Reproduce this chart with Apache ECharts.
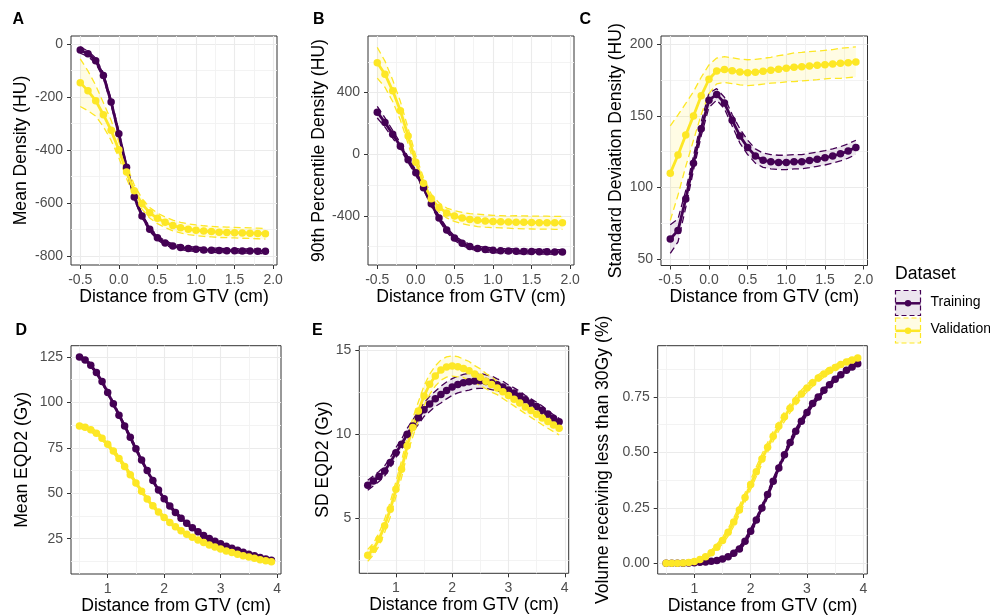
<!DOCTYPE html>
<html>
<head>
<meta charset="utf-8">
<script src="https://cdn.jsdelivr.net/npm/echarts@6/dist/echarts.min.js"></script>
<style>
  html, body { margin: 0; padding: 0; background: #fff; }
  #chart { width: 990px; height: 616px; }
</style>
</head>
<body>
<div id="chart"></div>
<script>
// distances (cm)
const distanceTop = [-0.5, -0.4, -0.3, -0.2, -0.1, 0.0, 0.1, 0.2, 0.3, 0.4, 0.5, 0.6, 0.7, 0.8, 0.9, 1.0, 1.1, 1.2, 1.3, 1.4, 1.5, 1.6, 1.7, 1.8, 1.9];
const distanceBottom = [0.5, 0.6, 0.7, 0.8, 0.9, 1.0, 1.1, 1.2, 1.3, 1.4, 1.5, 1.6, 1.7, 1.8, 1.9, 2.0, 2.1, 2.2, 2.3, 2.4, 2.5, 2.6, 2.7, 2.8, 2.9, 3.0, 3.1, 3.2, 3.3, 3.4, 3.5, 3.6, 3.7, 3.8, 3.9];

// A - mean density (HU)
const meanDensityTrain = [-22, -36, -62, -118, -218, -338, -464, -576, -648, -698, -730, -750, -761, -767, -771, -774, -776, -777, -778, -779, -779, -780, -780, -781, -781];
const meanDensityTrainCI = [12, 10, 10, 10, 10, 10, 9, 9, 8, 8, 8, 8, 8, 8, 8, 8, 8, 8, 8, 8, 8, 8, 8, 8, 9];
const meanDensityValid = [-145, -176, -213, -266, -325, -398, -482, -553, -602, -636, -657, -672, -684, -692, -698, -702, -705, -707, -709, -710, -711, -712, -713, -714, -715];
const meanDensityValidCI = [90, 75, 58, 45, 38, 30, 25, 22, 20, 20, 20, 20, 20, 20, 20, 20, 20, 20, 20, 20, 20, 20, 20, 20, 20];

// B - 90th percentile density (HU)
const p90Train = [273, 206, 130, 52, -36, -120, -218, -322, -415, -492, -545, -578, -600, -613, -620, -624, -627, -629, -631, -632, -633, -634, -634, -635, -635];
const p90TrainCI = [38, 30, 25, 20, 18, 16, 15, 15, 15, 15, 15, 15, 15, 15, 15, 15, 15, 15, 15, 15, 15, 15, 15, 15, 15];
const p90Valid = [594, 520, 412, 282, 118, -52, -188, -290, -346, -382, -402, -415, -424, -430, -434, -437, -439, -441, -442, -443, -444, -445, -445, -446, -446];
const p90ValidCI = [100, 85, 70, 60, 50, 42, 35, 30, 30, 32, 35, 37, 38, 40, 40, 40, 40, 40, 42, 42, 42, 42, 42, 42, 42];

// C - standard deviation density (HU)
const sdDensityTrain = [64, 70, 92, 117, 141, 161, 165, 159, 147, 136, 128, 122, 119, 118, 117.5, 117.5, 118, 118, 118.8, 119.8, 120.7, 122, 123.5, 125.5, 128];
const sdDensityTrainCI = [10, 8, 6, 5, 5, 5, 4, 4, 4, 5, 5, 5, 5, 5, 5, 5, 5, 5, 5, 5, 5, 5, 5, 5, 5];
const sdDensityValid = [110, 122.7, 136.7, 150, 164, 175.6, 181.4, 182.4, 181.6, 180.7, 180.2, 180.5, 181.2, 181.9, 182.6, 183.3, 184, 184.4, 184.9, 185.3, 185.8, 186.3, 186.7, 187.2, 187.7];
const sdDensityValidCI = [33, 28, 22, 17, 13, 10, 9, 9, 9, 9, 9, 9, 9, 9, 9.5, 9.5, 10, 10, 10, 10, 10, 10, 10.5, 10.5, 10.5];

// D - mean EQD2 (Gy)
const meanEqd2Train = [125, 123.3, 120.5, 116.5, 111.5, 105.5, 99.2, 93, 87, 80.8, 74.5, 68.3, 62.5, 57, 51.8, 47, 43, 39.5, 36.3, 33.5, 31, 28.8, 26.8, 25.1, 23.6, 22.2, 20.9, 19.7, 18.6, 17.5, 16.5, 15.6, 14.7, 13.9, 13.2];
const meanEqd2TrainCI = [1, 1, 1, 1, 1, 1, 1, 1, 1, 1, 0.9, 0.9, 0.9, 0.9, 0.9, 0.8, 0.8, 0.8, 0.8, 0.8, 0.7, 0.7, 0.7, 0.7, 0.7, 0.6, 0.6, 0.6, 0.6, 0.6, 0.5, 0.5, 0.5, 0.5, 0.5];
const meanEqd2Valid = [87, 86.4, 85, 83, 80.3, 77, 73.3, 69.2, 64.8, 60.2, 55.6, 51.1, 46.9, 43.1, 39.7, 36.7, 34, 31.6, 29.4, 27.5, 25.8, 24.3, 22.9, 21.6, 20.4, 19.3, 18.3, 17.4, 16.5, 15.7, 14.9, 14.2, 13.5, 12.9, 12.4];
const meanEqd2ValidCI = [1.2, 1.2, 1.2, 1.2, 1.2, 1.2, 1.2, 1.2, 1.2, 1.2, 1, 1, 1, 1, 1, 0.9, 0.9, 0.9, 0.9, 0.9, 0.8, 0.8, 0.8, 0.8, 0.8, 0.7, 0.7, 0.7, 0.7, 0.7, 0.6, 0.6, 0.6, 0.6, 0.6];

// E - SD EQD2 (Gy)
const sdEqd2Train = [6.96, 7.22, 7.48, 7.81, 8.31, 8.9, 9.4, 9.99, 10.49, 10.98, 11.45, 11.8, 12.1, 12.35, 12.6, 12.8, 12.95, 13.05, 13.12, 13.16, 13.17, 13.13, 13.05, 12.94, 12.8, 12.62, 12.45, 12.25, 12.05, 11.85, 11.65, 11.42, 11.2, 10.95, 10.74];
const sdEqd2TrainCI = [0.3, 0.3, 0.3, 0.3, 0.3, 0.3, 0.3, 0.35, 0.35, 0.4, 0.4, 0.45, 0.45, 0.5, 0.5, 0.5, 0.5, 0.5, 0.5, 0.45, 0.45, 0.4, 0.4, 0.35, 0.35, 0.3, 0.3, 0.3, 0.25, 0.25, 0.25, 0.25, 0.2, 0.2, 0.2];
const sdEqd2Valid = [2.8, 3.16, 3.75, 4.55, 5.53, 6.72, 7.91, 9.3, 10.39, 11.38, 12.27, 12.96, 13.46, 13.81, 13.99, 14.05, 14.01, 13.91, 13.77, 13.57, 13.38, 13.15, 12.95, 12.75, 12.52, 12.3, 12.08, 11.85, 11.62, 11.4, 11.18, 10.96, 10.75, 10.55, 10.35];
const sdEqd2ValidCI = [0.35, 0.35, 0.4, 0.4, 0.45, 0.45, 0.5, 0.5, 0.55, 0.55, 0.6, 0.6, 0.6, 0.6, 0.6, 0.6, 0.6, 0.55, 0.55, 0.5, 0.5, 0.45, 0.45, 0.4, 0.4, 0.4, 0.4, 0.4, 0.4, 0.4, 0.4, 0.4, 0.4, 0.4, 0.4];

// F - volume receiving less than 30Gy
const v30Train = [0, 0, 0, 0.001, 0.002, 0.003, 0.005, 0.006, 0.009, 0.013, 0.02, 0.03, 0.045, 0.065, 0.1, 0.145, 0.195, 0.25, 0.31, 0.37, 0.43, 0.49, 0.545, 0.595, 0.64, 0.68, 0.72, 0.75, 0.78, 0.805, 0.83, 0.85, 0.87, 0.885, 0.9];
const v30TrainCI = [0, 0, 0, 0, 0.001, 0.002, 0.003, 0.004, 0.005, 0.006, 0.007, 0.008, 0.009, 0.01, 0.011, 0.012, 0.012, 0.013, 0.013, 0.013, 0.013, 0.013, 0.013, 0.012, 0.012, 0.011, 0.011, 0.01, 0.01, 0.009, 0.009, 0.008, 0.008, 0.008, 0.008];
const v30Valid = [0, 0, 0.001, 0.002, 0.004, 0.008, 0.017, 0.03, 0.048, 0.073, 0.103, 0.14, 0.186, 0.24, 0.297, 0.355, 0.413, 0.47, 0.523, 0.573, 0.619, 0.661, 0.699, 0.733, 0.763, 0.79, 0.814, 0.835, 0.853, 0.869, 0.883, 0.896, 0.907, 0.917, 0.926];
const v30ValidCI = [0, 0, 0.001, 0.002, 0.003, 0.005, 0.007, 0.009, 0.011, 0.013, 0.015, 0.017, 0.019, 0.02, 0.021, 0.022, 0.022, 0.022, 0.022, 0.022, 0.021, 0.021, 0.02, 0.019, 0.018, 0.017, 0.016, 0.015, 0.014, 0.013, 0.012, 0.012, 0.011, 0.011, 0.01];

// tick labels
const xTicksTop = [-0.5, 0, 0.5, 1, 1.5, 2];
const xTicksBottom = [1, 2, 3, 4];
const yTicksA = [-800, -600, -400, -200, 0];
const yTicksB = [-400, 0, 400];
const yTicksC = [50, 100, 150, 200];
const yTicksD = [25, 50, 75, 100, 125];
const yTicksE = [5, 10, 15];
const yTicksF = [0, 0.25, 0.5, 0.75];

const PURPLE = '#440154';
const YELLOW = '#FDE725';
const PURPLE_FILL = 'rgba(68,1,84,0.1)';
const YELLOW_FILL = 'rgba(253,231,37,0.12)';
const FONT = '"Liberation Sans", Arial, sans-serif';

const panels = [
  { letter: 'A', lx: 12.5, ly: 20.5, grid: [71, 36, 206, 229], x: [-0.62, 2.05, 0.5, xTicksTop, 1], y: [-833, 31, 200, yTicksA, 0],
    yName: 'Mean Density (HU)', yGap: 41, xGap: 21, xs: distanceTop,
    tr: meanDensityTrain, trCI: meanDensityTrainCI, va: meanDensityValid, vaCI: meanDensityValidCI },
  { letter: 'B', lx: 313, ly: 20.5, grid: [368, 36, 206, 229], x: [-0.62, 2.05, 0.5, xTicksTop, 1], y: [-720, 768, 400, yTicksB, 0],
    yName: '90th Percentile Density (HU)', yGap: 39.5, xGap: 21, xs: distanceTop,
    tr: p90Train, trCI: p90TrainCI, va: p90Valid, vaCI: p90ValidCI },
  { letter: 'C', lx: 579.5, ly: 20.5, grid: [661, 36, 206.5, 229.5], x: [-0.62, 2.05, 0.5, xTicksTop, 1], y: [45.5, 205.8, 50, yTicksC, 0],
    yName: 'Standard Deviation Density (HU)', yGap: 36, xGap: 21, xs: distanceTop,
    tr: sdDensityTrain, trCI: sdDensityTrainCI, va: sdDensityValid, vaCI: sdDensityValidCI },
  { letter: 'D', lx: 15.5, ly: 331.5, grid: [71, 345.7, 210, 228.3], x: [0.35, 4.07, 1, xTicksBottom, 0], y: [5.6, 131.2, 25, yTicksD, 0],
    yName: 'Mean EQD2 (Gy)', yGap: 39.5, xGap: 20, xs: distanceBottom,
    tr: meanEqd2Train, trCI: meanEqd2TrainCI, va: meanEqd2Valid, vaCI: meanEqd2ValidCI },
  { letter: 'E', lx: 312, ly: 331.5, grid: [359.3, 346, 209.4, 227.3], x: [0.35, 4.07, 1, xTicksBottom, 0], y: [1.73, 15.24, 5, yTicksE, 0],
    yName: 'SD EQD2 (Gy)', yGap: 26, xGap: 20, xs: distanceBottom,
    tr: sdEqd2Train, trCI: sdEqd2TrainCI, va: sdEqd2Valid, vaCI: sdEqd2ValidCI },
  { letter: 'F', lx: 580.5, ly: 331.5, grid: [657.7, 345.7, 209.6, 228.3], x: [0.35, 4.07, 1, xTicksBottom, 0], y: [-0.048, 0.981, 0.25, yTicksF, 2],
    yName: 'Volume receiving less than 30Gy (%)', yGap: 45.5, xGap: 20, xs: distanceBottom,
    tr: v30Train, trCI: v30TrainCI, va: v30Valid, vaCI: v30ValidCI }
];

function axisCommon(range, name, gap) {
  const [min, max, step, ticks, digits] = range;
  return {
    type: 'value', min: min, max: max, minInterval: step, maxInterval: step,
    name: name, nameLocation: 'middle', nameGap: gap,
    nameTextStyle: { color: '#000', fontSize: 17.6, fontFamily: FONT },
    axisLine: { show: false, onZero: false },
    axisTick: { show: true, length: 4, customValues: ticks, lineStyle: { color: '#333333', width: 1 } },
    axisLabel: {
      color: '#4D4D4D', fontSize: 14, fontFamily: FONT, customValues: ticks,
      formatter: v => ticks.some(t => Math.abs(t - v) < 1e-9) ? v.toFixed(digits) : ''
    },
    splitLine: { show: true, lineStyle: { color: '#EBEBEB', width: 1.1 } },
    minorTick: { show: false, splitNumber: 2 },
    minorSplitLine: { show: true, lineStyle: { color: '#F2F2F2', width: 0.9 } }
  };
}

function ribbon(k, xs, mean, ci, fill) {
  const lo = mean.map((m, i) => m - ci[i]);
  const hi = mean.map((m, i) => m + ci[i]);
  return {
    type: 'custom', xAxisIndex: k, yAxisIndex: k, z: 1, silent: true,
    data: xs.map((x, i) => [x, lo[i], hi[i]]),
    encode: { x: 0, y: [1, 2] },
    renderItem: (params, api) => {
      if (params.dataIndex !== 0) return null;
      const upper = xs.map((x, i) => api.coord([x, hi[i]]));
      const lower = xs.map((x, i) => api.coord([x, lo[i]])).reverse();
      return { type: 'polygon', shape: { points: upper.concat(lower) }, style: { fill: fill } };
    }
  };
}

function bound(k, xs, mean, ci, sign, color) {
  return {
    type: 'line', xAxisIndex: k, yAxisIndex: k, z: 2, silent: true, symbol: 'none',
    data: xs.map((x, i) => [x, mean[i] + sign * ci[i]]),
    lineStyle: { color: color, width: 1.3, type: [7, 4] }
  };
}

function meanLine(k, xs, mean, color, name) {
  return {
    type: 'line', name: name, xAxisIndex: k, yAxisIndex: k, z: 3, silent: true,
    symbol: 'circle', symbolSize: 7.5, showSymbol: true,
    data: xs.map((x, i) => [x, mean[i]]),
    lineStyle: { color: color, width: 2.8 },
    itemStyle: { color: color }
  };
}

const series = [];
panels.forEach((p, k) => {
  series.push(ribbon(k, p.xs, p.tr, p.trCI, PURPLE_FILL));
  series.push(ribbon(k, p.xs, p.va, p.vaCI, YELLOW_FILL));
  series.push(bound(k, p.xs, p.tr, p.trCI, -1, PURPLE), bound(k, p.xs, p.tr, p.trCI, 1, PURPLE));
  series.push(bound(k, p.xs, p.va, p.vaCI, -1, YELLOW), bound(k, p.xs, p.va, p.vaCI, 1, YELLOW));
  series.push(meanLine(k, p.xs, p.tr, PURPLE, 'Training'));
  series.push(meanLine(k, p.xs, p.va, YELLOW, 'Validation'));
});

// panel letters + legend
const graphics = panels.map(p => ({
  type: 'text', left: p.lx, top: p.ly - 9,
  style: { text: p.letter, font: 'bold 16px ' + FONT, fill: '#000' }
}));
graphics.push({ type: 'text', left: 895, top: 265, style: { text: 'Dataset', font: '17.6px ' + FONT, fill: '#000' } });
[[290.5, PURPLE, PURPLE_FILL, 'Training'], [318, YELLOW, YELLOW_FILL, 'Validation']].forEach(([y, c, f, label]) => {
  graphics.push({ type: 'rect', shape: { x: 895.5, y: y, width: 25, height: 25 }, style: { fill: f, stroke: c, lineWidth: 1.2, lineDash: [5, 3] } });
  graphics.push({ type: 'line', shape: { x1: 895.5, y1: y + 12.8, x2: 920.5, y2: y + 12.8 }, style: { stroke: c, lineWidth: 2.5 } });
  graphics.push({ type: 'circle', shape: { cx: 908, cy: y + 12.8, r: 3.2 }, style: { fill: c } });
  graphics.push({ type: 'text', left: 930.5, top: y + 4.5, style: { text: label, font: '14px ' + FONT, fill: '#000' } });
});

const chart = echarts.init(document.getElementById('chart'), null, { renderer: 'canvas' });
chart.setOption({
  backgroundColor: '#fff',
  animation: false,
  textStyle: { fontFamily: FONT },
  grid: panels.map(p => ({
    left: p.grid[0], top: p.grid[1], width: p.grid[2], height: p.grid[3],
    show: true, backgroundColor: '#fff', borderColor: '#333333', borderWidth: 1,
    containLabel: false, outerBoundsMode: 'none'
  })),
  xAxis: panels.map((p, k) => Object.assign(axisCommon(p.x, 'Distance from GTV (cm)', p.xGap), { gridIndex: k, position: 'bottom' })),
  yAxis: panels.map((p, k) => Object.assign(axisCommon(p.y, p.yName, p.yGap), { gridIndex: k, position: 'left' })),
  series: series,
  graphic: graphics
});
</script>
</body>
</html>
